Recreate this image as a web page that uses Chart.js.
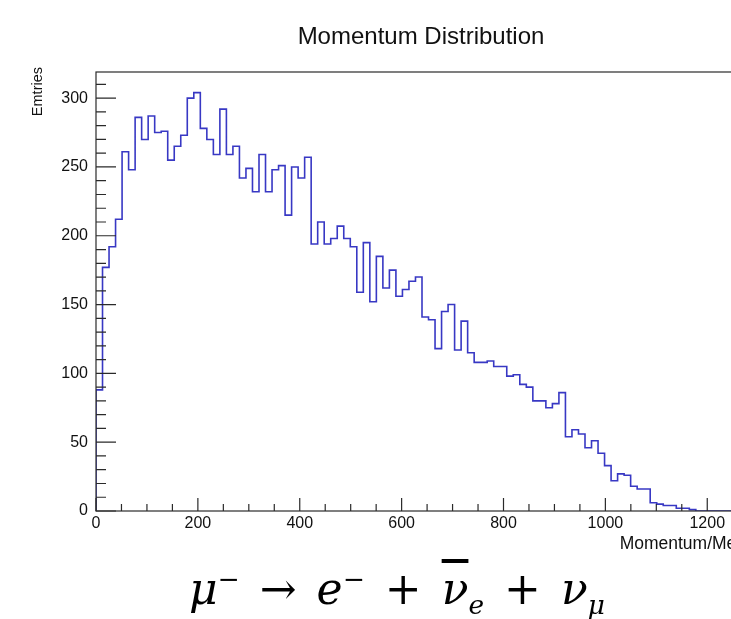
<!DOCTYPE html>
<html>
<head>
<meta charset="utf-8">
<title>Momentum Distribution</title>
<script src="https://cdn.jsdelivr.net/npm/chart.js@4/dist/chart.umd.min.js"></script>
<style>
    html, body {
        margin: 0;
        padding: 0;
        background: #ffffff;
        overflow: hidden;
        width: 731px;
        height: 619px;
    }
    #wrap {
        position: absolute;
        left: 0;
        top: 0;
        width: 842px;
        height: 560px;
    }
    #plotTitle {
        position: absolute;
        left: 0;
        top: 24px;
        width: 842px;
        text-align: center;
        font: 24px "Liberation Sans", Arial, sans-serif;
        line-height: 24px;
        color: #111;
    }
    #decay {
        position: absolute;
        left: 189px;
        top: 564px;
        white-space: nowrap;
        font: italic 44px "DejaVu Serif", "Liberation Serif", serif;
        line-height: 50px;
        color: #000;
    }
    #decay .up { font-style: normal; }
    #decay sup, #decay sub { font-size: 0.6em; line-height: 0; }
    #decay .op { font-style: normal; margin: 0 20px; }
    #decay .bar { text-decoration: overline; }
</style>
</head>
<body>
<div id="wrap">
    <canvas id="histChart" width="842" height="560"></canvas>
</div>
<div id="plotTitle">Momentum Distribution</div>
<div id="decay">μ<sup class="up">−</sup><span class="op">→</span>e<sup class="up">−</sup><span class="op">+</span><span class="bar">ν</span><sub>e</sub><span class="op">+</span>ν<sub>μ</sub></div>

<script>
// histogram: 100 bins from 0 to 1280 MeV
const binWidth = 12.8;
const counts = [
    88, 177, 192, 212, 261, 248, 286, 270, 287, 275,
    276, 255, 265, 273, 300, 304, 278, 270, 259, 292,
    259, 265, 242, 249, 232, 259, 232, 248, 251, 215,
    250, 242, 257, 194, 210, 194, 198, 207, 198, 192,
    159, 195, 152, 185, 162, 175, 156, 161, 167, 170,
    141, 139, 118, 145, 150, 117, 138, 115, 108, 108,
    109, 105, 105, 98, 99, 92, 90, 80, 80, 75,
    78, 86, 54, 59, 56, 46, 51, 42, 33, 22,
    27, 26, 18, 16, 16, 6, 5, 4, 4, 2,
    2, 1, 0, 0, 0, 0, 0, 0, 0, 0
];

// axis ranges and divisions
const xRange = [0, 1280];
const yRange = [0, 319];
const xMajorStep = 200;
const xMinorStep = 50;
const yMajorStep = 50;
const yMinorStep = 10;

const axisLabels = {
    x: "Momentum/MeV",
    y: "Emtries"
};

const fontFamily = "'Liberation Sans', Arial, sans-serif";

function histPoints() {
    // each point is the low edge of a bin; "before" steps hold its value to the next edge
    const pts = [{ x: 0, y: 0 }];
    counts.forEach((c, i) => pts.push({ x: i * binWidth, y: c }));
    pts.push({ x: counts.length * binWidth, y: 0 });
    return pts;
}

// ROOT style frame with ticks pointing inward, plus the y title
const frameTicks = {
    id: "frameTicks",
    afterDatasetsDraw(chart) {
        const { ctx, chartArea: a, scales: { x, y } } = chart;
        ctx.save();
        ctx.strokeStyle = "#2a2a2a";
        ctx.lineWidth = 1.2;
        ctx.strokeRect(a.left, a.top, a.right - a.left, a.bottom - a.top);

        ctx.beginPath();
        for (let v = xRange[0]; v <= xRange[1]; v += xMinorStep) {
            const px = x.getPixelForValue(v);
            const len = v % xMajorStep === 0 ? 13 : 7;
            ctx.moveTo(px, a.bottom);
            ctx.lineTo(px, a.bottom - len);
        }
        for (let v = yRange[0]; v <= yRange[1]; v += yMinorStep) {
            const py = y.getPixelForValue(v);
            const len = v % yMajorStep === 0 ? 20 : 10;
            ctx.moveTo(a.left, py);
            ctx.lineTo(a.left + len, py);
        }
        ctx.stroke();

        ctx.translate(a.left - 58, a.top - 5);
        ctx.rotate(-Math.PI / 2);
        ctx.fillStyle = "#111";
        ctx.font = "14.5px " + fontFamily;
        ctx.textAlign = "right";
        ctx.textBaseline = "middle";
        ctx.fillText(axisLabels.y, 0, 0);
        ctx.restore();
    }
};

const tickFont = { family: fontFamily, size: 16 };

new Chart(document.getElementById("histChart"), {
    type: "line",
    data: {
        datasets: [{
            data: histPoints(),
            stepped: "before",
            borderColor: "#3838c4",
            borderWidth: 1.6,
            pointRadius: 0,
            fill: false
        }]
    },
    options: {
        responsive: false,
        animation: false,
        layout: {
            padding: { left: 0, top: 72, right: 94, bottom: 0 }
        },
        plugins: {
            legend: { display: false },
            tooltip: { enabled: false }
        },
        scales: {
            x: {
                type: "linear",
                min: xRange[0],
                max: xRange[1],
                grid: { display: false, drawTicks: false },
                border: { display: false },
                ticks: {
                    stepSize: xMajorStep,
                    includeBounds: false,
                    maxRotation: 0,
                    autoSkip: false,
                    padding: 3,
                    color: "#111",
                    font: tickFont,
                    callback: (v) => String(v)
                },
                title: {
                    display: true,
                    text: axisLabels.x,
                    align: "end",
                    color: "#111",
                    font: { family: fontFamily, size: 17.5 },
                    padding: { top: 0, bottom: 5 }
                },
                afterFit: (scale) => { scale.height = 49; }
            },
            y: {
                min: yRange[0],
                max: yRange[1],
                grid: { display: false, drawTicks: false },
                border: { display: false },
                ticks: {
                    stepSize: yMajorStep,
                    includeBounds: false,
                    padding: 8,
                    color: "#111",
                    font: tickFont
                },
                afterFit: (scale) => { scale.width = 96; }
            }
        }
    },
    plugins: [frameTicks]
});
</script>
</body>
</html>
